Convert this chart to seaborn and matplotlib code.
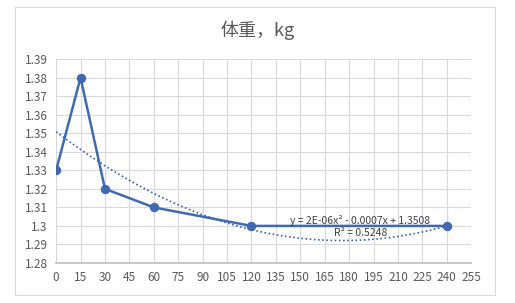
import numpy as np
import pandas as pd
import matplotlib
matplotlib.use("Agg")
import matplotlib.pyplot as plt
import seaborn as sns
from matplotlib.patches import Rectangle

# data
times = [0, 15, 30, 60, 120, 240]
weights = [1.33, 1.38, 1.32, 1.31, 1.30, 1.30]
x_ticks = list(range(0, 256, 15))
y_ticks = [1.28, 1.29, 1.3, 1.31, 1.32, 1.33, 1.34, 1.35, 1.36, 1.37, 1.38, 1.39]
y_labels = ["1.28", "1.29", "1.3", "1.31", "1.32", "1.33", "1.34", "1.35", "1.36", "1.37", "1.38", "1.39"]
title = "体重，kg"
eq_text = "y = 2E-06x² - 0.0007x + 1.3508"
r2_text = "R² = 0.5248"

sns.set_theme(style="whitegrid")
plt.rcParams['font.family'] = ['Noto Sans CJK SC', 'DejaVu Sans']

df = pd.DataFrame({"t": times, "w": weights})

fig = plt.figure(figsize=(5.15, 3.03), dpi=100)
fig.patch.set_facecolor("white")
fig.patches.append(Rectangle((0.029, 0.026), 0.932, 0.951, transform=fig.transFigure,
                             fill=False, edgecolor="#d9d9d9", linewidth=0.8))
ax = fig.add_axes([0.109, 0.132, 0.806, 0.673])

# trendline (polynomial order 2)
coef = np.polyfit(times, weights, 2)
xs = np.linspace(0, 240, 200)
ax.plot(xs, np.polyval(coef, xs), linestyle=(0, (1, 1.5)), color="#3f63a8", linewidth=1.2)

sns.lineplot(data=df, x="t", y="w", ax=ax, color="#4169b0", linewidth=1.8,
             marker="o", markersize=6, markeredgecolor="#4169b0")

ax.set_xlim(0, 255)
ax.set_ylim(1.28, 1.39)
ax.set_xticks(x_ticks)
ax.set_yticks(y_ticks)
ax.set_yticklabels(y_labels)
ax.set_xlabel("")
ax.set_ylabel("")
ax.grid(True, color="#d9d9d9", linewidth=0.8)
for s in ["top", "right", "left"]:
    ax.spines[s].set_visible(False)
ax.spines["bottom"].set_color("#bfbfbf")
ax.tick_params(axis="both", labelsize=8.5, colors="#595959", length=0, pad=6)
ax.set_facecolor("white")

fig.text(0.5, 0.9, title, ha="center", va="center", fontsize=13, color="#595959")
fig.text(0.70, 0.273, eq_text, ha="center", va="center", fontsize=7.5, color="#404040")
fig.text(0.70, 0.232, r2_text, ha="center", va="center", fontsize=7.5, color="#404040")

fig.savefig("out.png", dpi=100)
